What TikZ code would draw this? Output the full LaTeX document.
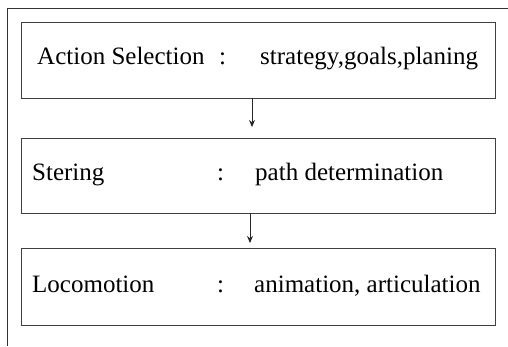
\documentclass[tikz,border=0pt]{standalone}
\usepackage{fontspec}
\setmainfont{Liberation Serif}
\usetikzlibrary{arrows.meta}
\begin{document}
\begin{tikzpicture}[x=1pt,y=-1pt,
  box/.style={draw=black!75,line width=0.9pt,minimum width=474pt,inner sep=0pt},
  lbl/.style={anchor=base west,inner sep=0pt,font=\fontsize{25}{28}\selectfont},
  conn/.style={draw=black!85,line width=0.9pt,-{Stealth[length=7pt,width=6pt]}}]
\useasboundingbox (0,0) rectangle (508,346);
\draw[black!80,line width=0.9pt] (508,8) -- (7,8) -- (7,346);
\node[box,minimum height=76pt] (b1) at (258,60) {};
\node[box,minimum height=75pt] (b2) at (258,175.5) {};
\node[box,minimum height=77pt] (b3) at (258,286.5) {};
\node[lbl] (a1) at (37,64) {Action Selection};
\node[lbl] (a2) at (219,64) {:};
\node[lbl] (a3) at (260,64) {strategy,goals,planing};
\node[lbl] (s1) at (32,180) {Stering};
\node[lbl] (s2) at (217,180) {:};
\node[lbl] (s3) at (255,180) {path determination};
\node[lbl] (l1) at (32,292) {Locomotion};
\node[lbl] (l2) at (217,292) {:};
\node[lbl] (l3) at (254,292) {animation, articulation};
\coordinate (t1) at (252,127);
\coordinate (t2) at (250,243);
\draw[conn] (b1.south -| t1) -- (t1);
\draw[conn] (b2.south -| t2) -- (t2);
\end{tikzpicture}
\end{document}
